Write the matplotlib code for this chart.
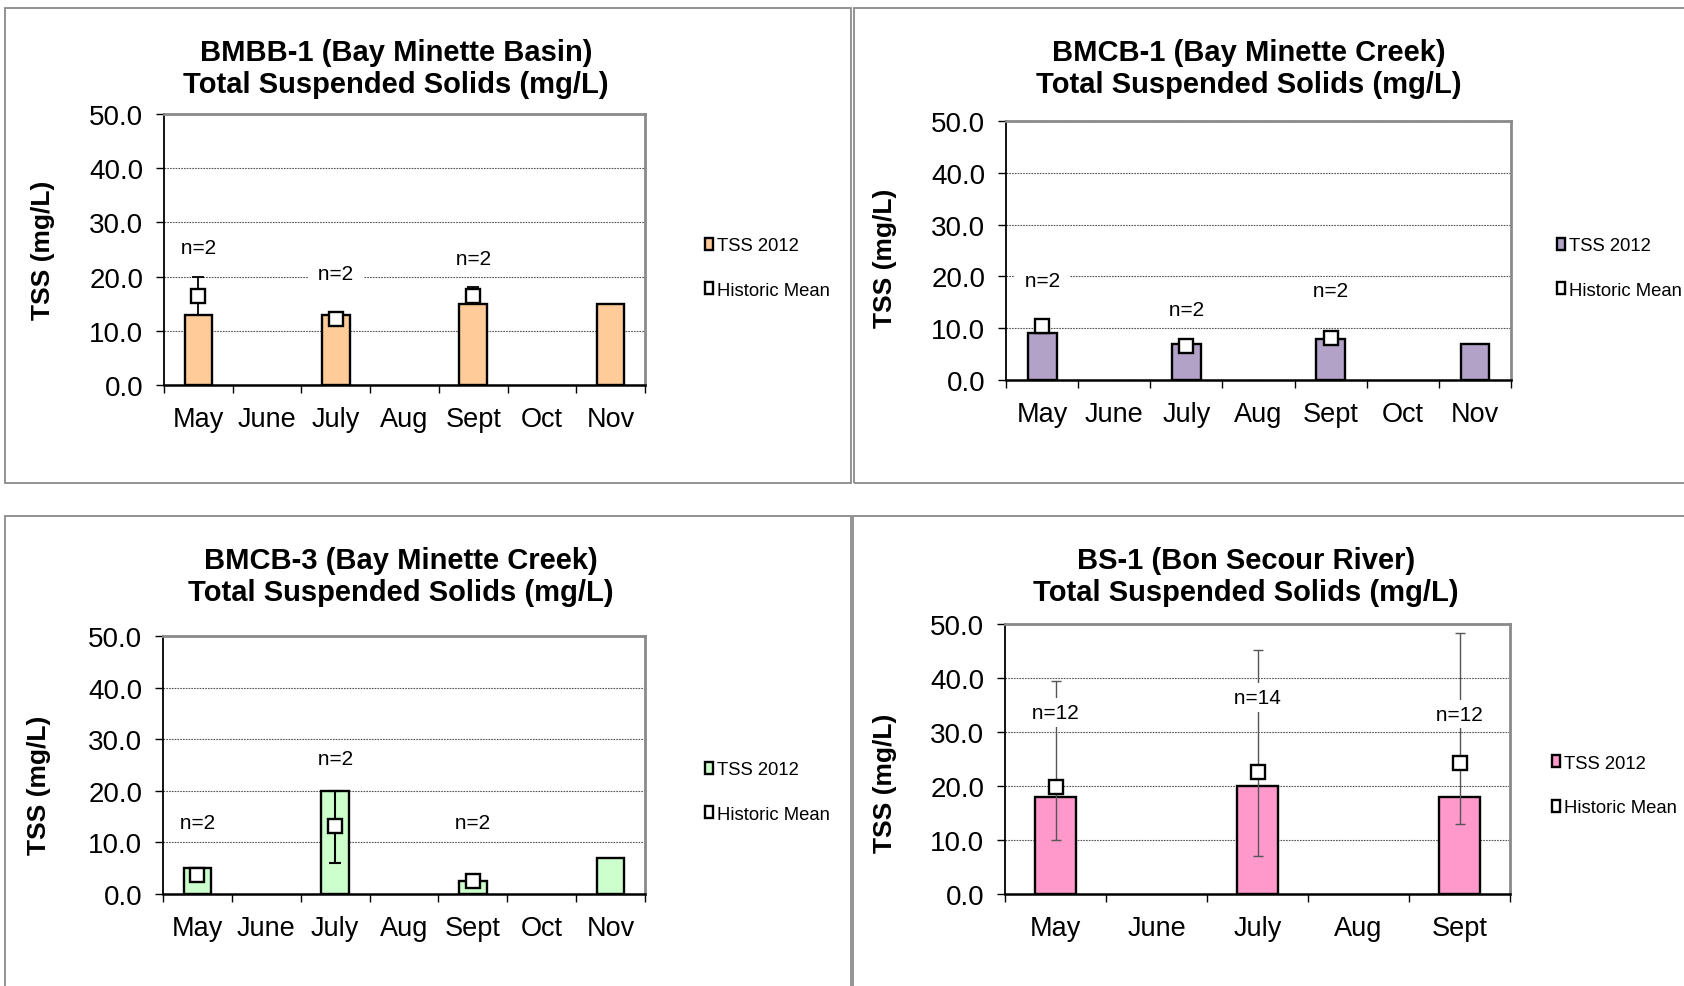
import numpy as np
import matplotlib
matplotlib.use("Agg")
import matplotlib.pyplot as plt
from matplotlib.patches import Rectangle, Patch
from matplotlib.ticker import FormatStrFormatter

plt.rcParams['font.family'] = ['Liberation Sans', 'DejaVu Sans']

nan = np.nan

# ---------------- data ----------------
months_full = ["May", "June", "July", "Aug", "Sept", "Oct", "Nov"]
months_bs = ["May", "June", "July", "Aug", "Sept"]

# BMBB-1 (Bay Minette Basin)
bmbb1_tss = [13.0, nan, 13.0, nan, 15.0, nan, 15.0]
bmbb1_mean = [16.5, nan, 12.1, nan, 16.5, nan, nan]
bmbb1_low = [13.0, nan, 11.1, nan, 15.0, nan, nan]
bmbb1_high = [20.0, nan, 13.1, nan, 18.0, nan, nan]
bmbb1_n = ["n=2", "", "n=2", "", "n=2", "", ""]

# BMCB-1 (Bay Minette Creek)
bmcb1_tss = [9.0, nan, 7.0, nan, 8.0, nan, 7.0]
bmcb1_mean = [10.5, nan, 6.5, nan, 8.1, nan, nan]
bmcb1_low = [9.2, nan, 5.5, nan, 6.9, nan, nan]
bmcb1_high = [11.8, nan, 7.5, nan, 9.3, nan, nan]
bmcb1_n = ["n=2", "", "n=2", "", "n=2", "", ""]

# BMCB-3 (Bay Minette Creek)
bmcb3_tss = [5.0, nan, 20.0, nan, 2.5, nan, 7.0]
bmcb3_mean = [3.7, nan, 13.1, nan, 2.6, nan, nan]
bmcb3_low = [2.7, nan, 6.0, nan, 1.6, nan, nan]
bmcb3_high = [4.7, nan, 20.0, nan, 3.6, nan, nan]
bmcb3_n = ["n=2", "", "n=2", "", "n=2", "", ""]

# BS-1 (Bon Secour River)
bs1_tss = [18.0, nan, 20.0, nan, 18.0]
bs1_mean = [19.8, nan, 22.6, nan, 24.3]
bs1_low = [10.0, nan, 7.0, nan, 13.0]
bs1_high = [39.5, nan, 45.2, nan, 48.3]
bs1_n = ["n=12", "", "n=14", "", "n=12"]

# ---------------- layout ----------------
W, H = 1684, 987
fig = plt.figure(figsize=(W / 100, H / 100), dpi=100)


def fx(px):
    return px / W


def fy(py):
    return 1 - py / H


# panel frames (pixel boxes: x0, y0, x1, y1)
frames = [(5, 9, 851, 484), (854, 9, 1700, 484),
          (5, 517, 851, 1000), (853, 517, 1700, 1000)]
for x0, y0, x1, y1 in frames:
    fig.add_artist(Rectangle((fx(x0), fy(y1)), fx(x1 - x0), (y1 - y0) / H,
                             transform=fig.transFigure, fill=False,
                             ec='#8a8a8a', lw=1.3))


def make_axes(left, top, right, bottom):
    return fig.add_axes([fx(left), fy(bottom), fx(right - left), (bottom - top) / H])


panels = [
    dict(box=(164, 115, 645, 386), cats=months_full, tss=bmbb1_tss, mean=bmbb1_mean,
         low=bmbb1_low, high=bmbb1_high, nlab=bmbb1_n, nlab_y=[25.4, 0, 20.6, 0, 23.4, 0, 0],
         color='#FFCC99', title="BMBB-1 (Bay Minette Basin)\nTotal Suspended Solids (mg/L)",
         title_xy=(396, 69), ylab_xy=(43, 250), leg_xy=(705, 269),
         ecol='black', elw=1.3, cap=4),
    dict(box=(1006, 122, 1511, 381), cats=months_full, tss=bmcb1_tss, mean=bmcb1_mean,
         low=bmcb1_low, high=bmcb1_high, nlab=bmcb1_n, nlab_y=[19.2, 0, 13.6, 0, 17.2, 0, 0],
         color='#B3A2C7', title="BMCB-1 (Bay Minette Creek)\nTotal Suspended Solids (mg/L)",
         title_xy=(1249, 69), ylab_xy=(885, 258), leg_xy=(1557, 269),
         ecol='black', elw=1.3, cap=4),
    dict(box=(163, 637, 645, 895), cats=months_full, tss=bmcb3_tss, mean=bmcb3_mean,
         low=bmcb3_low, high=bmcb3_high, nlab=bmcb3_n, nlab_y=[13.8, 0, 26.2, 0, 13.8, 0, 0],
         color='#CCFFCC', title="BMCB-3 (Bay Minette Creek)\nTotal Suspended Solids (mg/L)",
         title_xy=(401, 577), ylab_xy=(39, 785), leg_xy=(705, 793),
         ecol='black', elw=1.5, cap=4.5),
    dict(box=(1005, 625, 1510, 895), cats=months_bs, tss=bs1_tss, mean=bs1_mean,
         low=bs1_low, high=bs1_high, nlab=bs1_n, nlab_y=[33.6, 0, 36.4, 0, 33.3],
         color='#FF99CC', title="BS-1 (Bon Secour River)\nTotal Suspended Solids (mg/L)",
         title_xy=(1246, 577), ylab_xy=(885, 783), leg_xy=(1552, 786.5),
         ecol='#555555', elw=1.0, cap=3.5),
]

for p in panels:
    left, top, right, bottom = p['box']
    ax = make_axes(left, top, right, bottom)
    n = len(p['cats'])
    x = np.arange(n)
    tss = np.array(p['tss'], dtype=float)
    mean = np.array(p['mean'], dtype=float)
    low = np.array(p['low'], dtype=float)
    high = np.array(p['high'], dtype=float)

    ax.bar(x, tss, width=0.4, color=p['color'], edgecolor='black', linewidth=1.7, zorder=3)
    ax.errorbar(x, mean, yerr=[mean - low, high - mean], fmt='none', ecolor=p['ecol'],
                elinewidth=p['elw'], capsize=p['cap'], capthick=p['elw'], zorder=4)
    ax.plot(x, mean, 's', ms=10, mfc='white', mec='black', mew=1.7, zorder=5, ls='none')

    for xi, lab, yy in zip(x, p['nlab'], p['nlab_y']):
        if lab:
            ax.text(xi, yy, " " + lab + " ", ha='center', va='center', fontsize=15, zorder=6,
                    bbox=dict(boxstyle='square,pad=0.22', fc='white', ec='none'))

    ax.set_xlim(-0.5, n - 0.5)
    ax.set_ylim(0, 50)
    ax.set_yticks(np.arange(0, 51, 10))
    ax.yaxis.set_major_formatter(FormatStrFormatter('%.1f'))
    ax.set_xticks(x)
    ax.set_xticklabels(p['cats'])
    ax.set_xticks(np.arange(-0.5, n, 1.0), minor=True)
    ax.tick_params(axis='x', which='major', length=0, pad=15, labelsize=19.5)
    ax.tick_params(axis='x', which='minor', length=5.8, width=1.0, direction='out')
    ax.tick_params(axis='y', which='major', length=5.8, width=1.0, direction='out',
                   pad=9, labelsize=20)

    ax.yaxis.grid(True, color='#555555', linestyle=(0, (1.5, 1.0)), linewidth=0.8, zorder=0)
    ax.set_axisbelow(True)

    for s in ('top', 'right'):
        ax.spines[s].set_color('#8a8a8a')
        ax.spines[s].set_linewidth(2.0)
    ax.spines['left'].set_color('black')
    ax.spines['left'].set_linewidth(1.3)
    ax.spines['bottom'].set_color('black')
    ax.spines['bottom'].set_linewidth(1.8)

    # y label
    ax.set_ylabel("TSS (mg/L)", fontsize=19, fontweight='bold', va='center', ha='center')
    yx, yy = p['ylab_xy']
    ax.yaxis.set_label_coords((yx - left) / (right - left), (bottom - yy) / (bottom - top))

    # title
    tx, ty = p['title_xy']
    fig.text(fx(tx), fy(ty), p['title'], ha='center', va='center', fontsize=21,
             fontweight='bold', linespacing=1.19)

    # legend
    handles = [Patch(fc=p['color'], ec='black', lw=1.7, label='TSS 2012'),
               Patch(fc='white', ec='black', lw=1.7, label='Historic Mean')]
    lx, ly = p['leg_xy']
    ax.legend(handles=handles, loc='center left', bbox_to_anchor=(fx(lx), fy(ly)),
              bbox_transform=fig.transFigure, frameon=False, fontsize=13.3,
              handlelength=0.42, handleheight=0.6, handletextpad=0.25,
              labelspacing=1.48, borderpad=0, borderaxespad=0)

fig.savefig("out.png", dpi=100, facecolor='white')
